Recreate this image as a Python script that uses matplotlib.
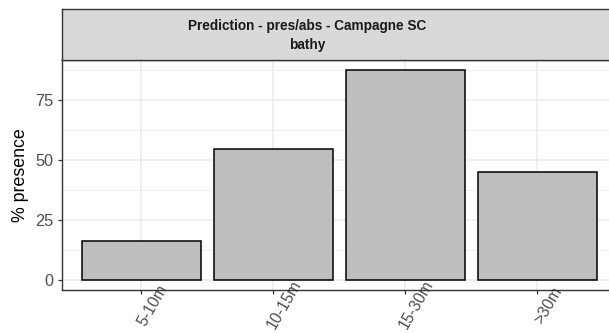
import matplotlib
matplotlib.use("Agg")
import matplotlib.pyplot as plt
import matplotlib.transforms as mtransforms
import numpy as np

categories = ["5-10m", "10-15m", "15-30m", ">30m"]
presence = [16.1, 54.4, 87.4, 45.1]
yticks = [0, 25, 50, 75]
strip_title = "Prediction - pres/abs - Campagne SC\nbathy"
ylabel = "% presence"

plt.rcParams['font.family'] = ['Liberation Sans', 'DejaVu Sans']

W, H = 609, 333
fig = plt.figure(figsize=(W / 100, H / 100), dpi=100)

def fx(px):
    return px / W

def fy(py):
    return 1 - py / H

left, right = 62, 616.4
top, bottom = 60, 290
strip_top = 9

ax = fig.add_axes([fx(left), fy(bottom), fx(right) - fx(left), fy(top) - fy(bottom)])
x = np.arange(len(categories))
ymax = max(presence)
ax.set_xlim(-0.6, len(categories) - 0.4)
ax.set_ylim(-0.05 * ymax, 1.05 * ymax)

# grid
minor = [12.5, 37.5, 62.5, 87.5]
ax.set_yticks(yticks)
ax.set_yticks(minor, minor=True)
ax.set_xticks(x)
ax.grid(True, which='major', color='#EBEBEB', linewidth=1.1, zorder=0)
ax.grid(True, which='minor', axis='y', color='#EBEBEB', linewidth=0.6, zorder=0)
ax.set_axisbelow(True)

ax.bar(x, presence, width=0.9, color='#BEBEBE', edgecolor='black', linewidth=1.1, zorder=2)

ax.set_yticklabels([str(v) for v in yticks], fontsize=11.7, color='#4D4D4D')
ax.set_xticklabels(categories, fontsize=11.3, color='#4D4D4D', rotation=60,
                   rotation_mode='anchor', ha='center', va='center')
ax.tick_params(axis='both', which='major', length=3, width=0.9, color='#333333', pad=2)
ax.tick_params(axis='y', which='major', pad=3)
ax.tick_params(axis='y', which='minor', length=0)
shift = mtransforms.ScaledTranslation(0.11, -0.08, fig.dpi_scale_trans)
for lab in ax.get_xticklabels():
    lab.set_transform(lab.get_transform() + shift)
for s in ax.spines.values():
    s.set_color('#333333')
    s.set_linewidth(1.0)
ax.set_ylabel(ylabel, fontsize=12.8, color='black')
ax.yaxis.label.set_va('center')
ax.yaxis.set_label_coords(fx(21), 0.5 * (fy(top) + fy(bottom)), transform=fig.transFigure)

# strip
sax = fig.add_axes([fx(left), fy(top), fx(right) - fx(left), fy(strip_top) - fy(top)])
sax.set_facecolor('#D9D9D9')
sax.set_xticks([])
sax.set_yticks([])
for s in sax.spines.values():
    s.set_color('#333333')
    s.set_linewidth(1.0)
tr = mtransforms.blended_transform_factory(fig.transFigure, fig.transFigure)
sax.text(0.5 * (fx(190) + fx(425)), fy(35.5), strip_title, transform=tr, fontsize=9.8,
         fontweight='bold', color='#1A1A1A', ha='center', va='center', linespacing=1.4)

fig.savefig("out.png", dpi=100)
